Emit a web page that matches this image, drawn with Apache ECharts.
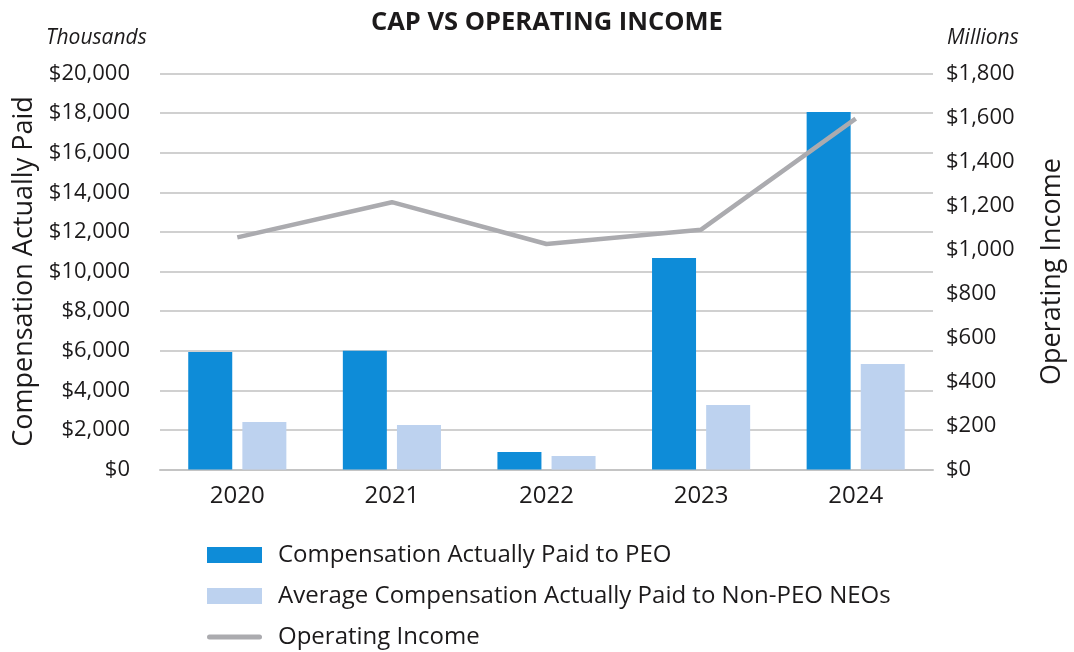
<!DOCTYPE html>
<html>
<head>
<meta charset="utf-8">
<script src="https://cdn.jsdelivr.net/npm/echarts@6/dist/echarts.min.js"></script>
<style>
  html, body { margin: 0; padding: 0; background: #fff; }
  #chart { width: 1074px; height: 652px; }
</style>
</head>
<body>
<div id="chart"></div>
<script>
// 数据
const years = ['2020', '2021', '2022', '2023', '2024'];
const capPeo = [5930, 6000, 880, 10680, 18050];
const capNonPeo = [2400, 2250, 680, 3260, 5330];
const operatingIncome = [1055, 1215, 1025, 1090, 1595];

const FONT = '"Open Sans", "Noto Sans", sans-serif';
const TEXT = '#1c1a1b';

function money(v) {
  return '$' + v.toLocaleString('en-US');
}

const chart = echarts.init(document.getElementById('chart'), null, { renderer: 'canvas' });

const option = {
  animation: false,
  textStyle: { fontFamily: FONT },
  title: {
    text: 'CAP VS OPERATING INCOME',
    left: 366,
    top: 5,
    textStyle: { fontFamily: FONT, fontSize: 25.5, fontWeight: 'bold', color: TEXT }
  },
  graphic: [
    {
      type: 'text', left: 46, top: 28,
      style: { text: 'Thousands', font: 'italic 21px ' + FONT, fill: TEXT }
    },
    {
      type: 'text', left: 947, top: 28,
      style: { text: 'Millions', font: 'italic 21px ' + FONT, fill: TEXT }
    }
  ],
  grid: {
    left: 160,
    right: 139,
    top: 73.5,
    bottom: 182.5,
    containLabel: false
  },
  legend: {
    orient: 'vertical',
    left: 202,
    top: 538,
    height: 140,
    itemWidth: 55,
    itemHeight: 16,
    itemGap: 17,
    textStyle: { fontFamily: FONT, fontSize: 24, color: TEXT, padding: [0, 0, 0, 11] },
    data: [
      { name: 'Compensation Actually Paid to PEO', icon: 'rect' },
      { name: 'Average Compensation Actually Paid to Non-PEO NEOs', icon: 'rect' },
      { name: 'Operating Income', icon: 'path://M2.5,0 L52.5,0 A2.5,2.5 0 0 1 52.5,5 L2.5,5 A2.5,2.5 0 0 1 2.5,0 Z' }
    ]
  },
  xAxis: {
    type: 'category',
    data: years,
    axisLine: { lineStyle: { color: '#c4c4c4', width: 2 } },
    axisTick: { show: false },
    axisLabel: { color: TEXT, fontSize: 24, margin: 15, fontFamily: FONT }
  },
  yAxis: [
    {
      type: 'value',
      min: 0,
      max: 20000,
      interval: 2000,
      name: 'Compensation Actually Paid',
      nameLocation: 'middle',
      nameGap: 115,
      nameRotate: 90,
      nameTextStyle: { fontSize: 27, color: TEXT, fontFamily: FONT },
      axisLine: { show: false },
      axisTick: { show: false },
      axisLabel: { color: TEXT, fontSize: 22, margin: 30, formatter: money },
      splitLine: { lineStyle: { color: '#c0c0c0', width: 1.5 } }
    },
    {
      type: 'value',
      position: 'right',
      min: 0,
      max: 1800,
      interval: 200,
      name: 'Operating Income',
      nameLocation: 'middle',
      nameGap: 106,
      nameRotate: 90,
      nameTextStyle: { fontSize: 27, color: TEXT, fontFamily: FONT },
      axisLine: { show: false },
      axisTick: { show: false },
      axisLabel: { color: TEXT, fontSize: 22, margin: 13, formatter: money },
      splitLine: { show: false }
    }
  ],
  series: [
    {
      name: 'Compensation Actually Paid to PEO',
      type: 'bar',
      data: capPeo,
      barWidth: 44,
      barGap: '23%',
      itemStyle: { color: '#0e8cd8' }
    },
    {
      name: 'Average Compensation Actually Paid to Non-PEO NEOs',
      type: 'bar',
      data: capNonPeo,
      barWidth: 44,
      itemStyle: { color: '#bdd2ef' }
    },
    {
      name: 'Operating Income',
      type: 'line',
      yAxisIndex: 1,
      data: operatingIncome,
      symbol: 'none',
      itemStyle: { color: '#ababaf' },
      lineStyle: { color: '#ababaf', width: 4.5 }
    }
  ]
};

chart.setOption(option);
</script>
</body>
</html>
